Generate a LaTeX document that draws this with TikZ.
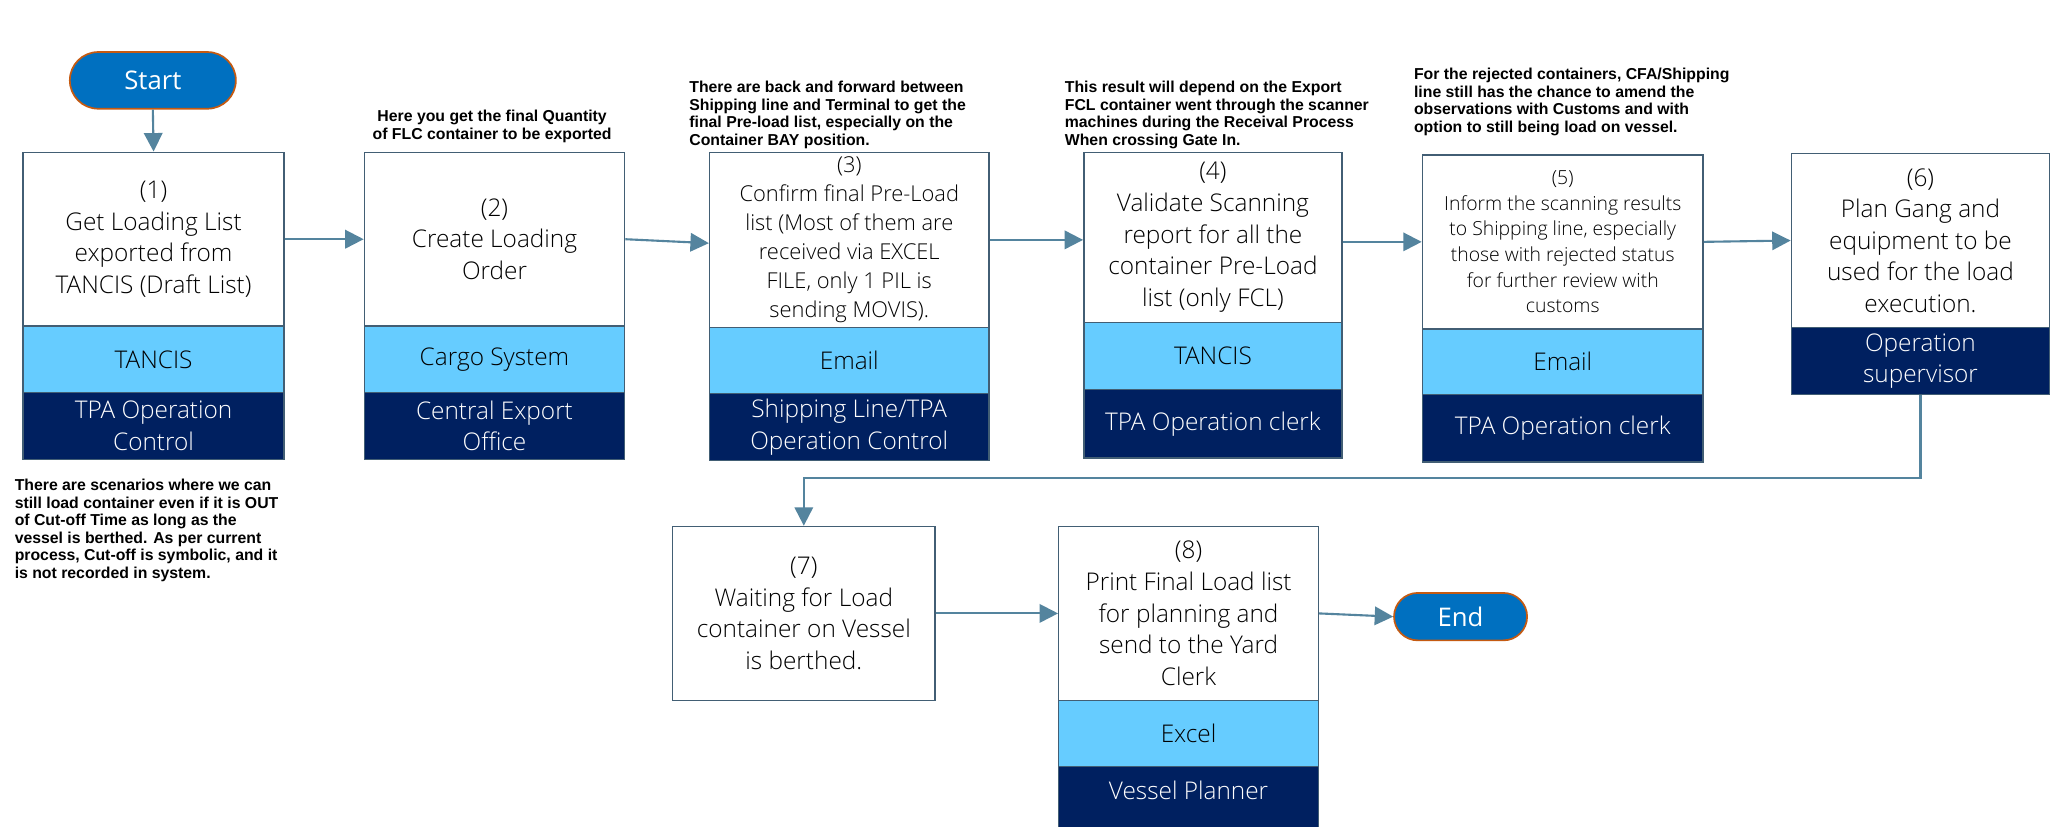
\documentclass[tikz,border=0pt]{standalone}
\usepackage{fontspec}
\setmainfont{Open Sans Light}
\newfontfamily\termfont{Open Sans}
\newfontfamily\notefont{Liberation Sans}
\usetikzlibrary{arrows.meta}

\definecolor{navy}{RGB}{0,32,96}
\definecolor{sky}{RGB}{102,204,255}
\definecolor{edge}{RGB}{66,94,116}
\definecolor{flow}{RGB}{84,132,158}
\definecolor{termfill}{RGB}{0,112,192}
\definecolor{termedge}{RGB}{197,90,17}

\tikzset{
  cell/.style={draw=edge, line width=1.1pt, rectangle, inner sep=0pt,
    anchor=north west, align=center, font=\fontsize{18.5}{24}\selectfont},
  task/.style={cell, fill=white, text=black},
  sys/.style={cell, fill=sky, text=black},
  role/.style={cell, fill=navy, text=white},
  term/.style={draw=termedge, fill=termfill, line width=1.3pt, text=white,
    inner sep=0pt, font=\termfont\fontsize{19.5}{24}\selectfont},
  flowline/.style={draw=flow, line width=1.6pt,
    -{Triangle[length=14pt,width=14pt]}},
  note/.style={font=\notefont\bfseries\fontsize{12}{13.3}\selectfont,
    inner sep=0pt, text=black}
}

\begin{document}
\begin{tikzpicture}[x=1pt,y=-1pt]
\useasboundingbox (0,0) rectangle (1568,627);
\clip (0,0) rectangle (1568,627);
\fill[white] (0,0) rectangle (1568,627);

% terminals
\node[term, rounded corners=21.5pt, minimum width=126pt, minimum height=43pt]
  (start) at (116,61) {Start};
\node[term, rounded corners=18pt, minimum width=101pt, minimum height=36pt]
  (end) at (1108.5,468) {End};

% step 1
\node[task, minimum width=198pt, minimum height=132pt] (b1) at (17,115)
  {(1)\\Get Loading List\\exported from\\TANCIS (Draft List)};
\node[sys, minimum width=198pt, minimum height=50.5pt] (b1s) at (17,247) {TANCIS};
\node[role, minimum width=198pt, minimum height=50.5pt] (b1r) at (17,297.5)
  {TPA Operation\\Control};

% step 2
\node[task, minimum width=197.5pt, minimum height=132pt] (b2) at (276,115)
  {(2)\\Create Loading\\Order};
\node[sys, minimum width=197.5pt, minimum height=50.5pt] (b2s) at (276,247) {Cargo System};
\node[role, minimum width=197.5pt, minimum height=50.5pt] (b2r) at (276,297.5)
  {Central Export\\Office};

% step 3
\node[task, minimum width=212pt, minimum height=133pt,
  font=\fontsize{16.6}{22}\selectfont] (b3) at (538,115)
  {(3)\\Confirm final Pre-Load\\list (Most of them are\\received via EXCEL\\FILE, only 1 PIL is\\sending MOVIS).};
\node[sys, minimum width=212pt, minimum height=50pt] (b3s) at (538,248) {Email};
\node[role, minimum width=212pt, minimum height=51pt] (b3r) at (538,298)
  {Shipping Line/TPA\\Operation Control};

% step 4
\node[task, minimum width=196pt, minimum height=129pt] (b4) at (822,115)
  {(4)\\Validate Scanning\\report for all the\\container Pre-Load\\list (only FCL)};
\node[sys, minimum width=196pt, minimum height=51pt] (b4s) at (822,244) {TANCIS};
\node[role, minimum width=196pt, minimum height=52pt] (b4r) at (822,295)
  {TPA Operation clerk};

% step 5
\node[task, minimum width=213pt, minimum height=132pt,
  font=\fontsize{14.7}{19.5}\selectfont] (b5) at (1079,117)
  {(5)\\Inform the scanning results\\to Shipping line, especially\\those with rejected status\\for further review with\\customs};
\node[sys, minimum width=213pt, minimum height=50pt] (b5s) at (1079,249) {Email};
\node[role, minimum width=213pt, minimum height=51pt] (b5r) at (1079,299)
  {TPA Operation clerk};

% step 6
\node[task, minimum width=196pt, minimum height=132pt] (b6) at (1359,116)
  {(6)\\Plan Gang and\\equipment to be\\used for the load\\execution.};
\node[role, minimum width=196pt, minimum height=51pt] (b6r) at (1359,248)
  {Operation\\supervisor};

% step 7
\node[task, minimum width=199pt, minimum height=132pt] (b7) at (510,399)
  {(7)\\Waiting for Load\\container on Vessel\\is berthed.};

% step 8
\node[task, minimum width=197pt, minimum height=132pt] (b8) at (803,399)
  {(8)\\Print Final Load list\\for planning and\\send to the Yard\\Clerk};
\node[sys, minimum width=197pt, minimum height=50pt] (b8s) at (803,531) {Excel};
\node[role, minimum width=197pt, minimum height=58pt] (b8r) at (803,581)
  {Vessel Planner\\[-3pt]};

% remarks
\node[note, anchor=north, align=center] (n2) at (373.5,83.6)
  {Here you get the final Quantity\\of FLC container to be exported};
\node[note, anchor=north west, align=left] (n3) at (523,61.6)
  {There are back and forward between\\Shipping line and Terminal to get the\\final Pre-load list, especially on the\\Container BAY position.};
\node[note, anchor=north west, align=left] (n4) at (808,61.6)
  {This result will depend on the Export\\FCL container went through the scanner\\machines during the Receival Process\\When crossing Gate In.};
\node[note, anchor=north west, align=left] (n5) at (1073,51.6)
  {For the rejected containers, CFA/Shipping\\line still has the chance to amend the\\observations with Customs and with\\option to still being load on vessel.};
\node[note, anchor=north west, align=left] (n1) at (11,363.6)
  {There are scenarios where we can\\still load container even if it is OUT\\of Cut-off Time as long as the\\vessel is berthed. As per current\\process, Cut-off is symbolic, and it\\is not recorded in system.};

% flow
\coordinate (bend) at (0,363);
\draw[flowline] (start.south) -- (b1.north);
\draw[flowline] (b1.east) -- (b2.west);
\draw[flowline] (b2.east) -- ([yshift=-2.5pt]b3.west);
\draw[flowline] (b3.east) -- (b3.east -| b4.west);
\draw[flowline] (b5.west -| b4.east) -- (b5.west);
\draw[flowline] (b5.east) -- (b6.west);
\draw[flowline] (b6r.south) -- (b6r.south |- bend) -| (b7.north);
\draw[flowline] (b7.east) -- (b8.west);
\draw[flowline] (b8.east) -- (end.west);
\end{tikzpicture}
\end{document}
